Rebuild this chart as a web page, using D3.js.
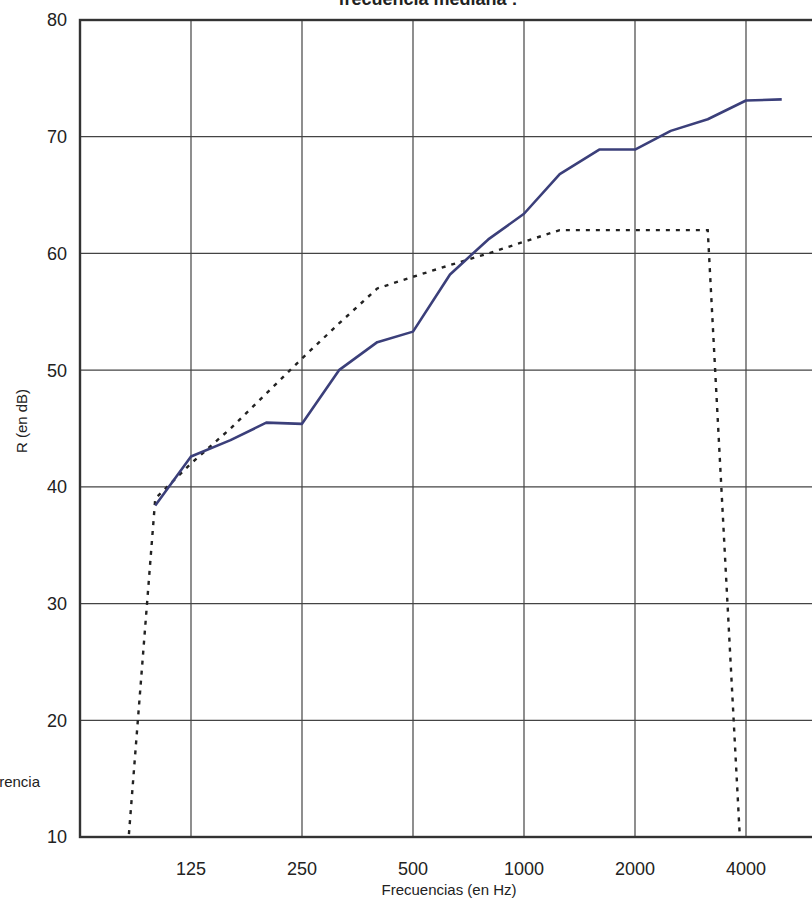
<!DOCTYPE html>
<html>
<head>
<meta charset="utf-8">
<script src="https://cdn.jsdelivr.net/npm/d3@7"></script>
<style>
  body { margin: 0; background: #fff; }
  svg { display: block; font-family: "Liberation Sans", Arial, sans-serif; }
</style>
</head>
<body>
<div id="chart"></div>
<script>
(() => {

// third-octave bands (Hz)
const freqs = [100, 125, 160, 200, 250, 315, 400, 500, 630, 800, 1000, 1250, 1600, 2000, 2500, 3150, 4000, 5000];
// measured R (dB)
const measured = [38.4, 42.6, 44.0, 45.5, 45.4, 50.0, 52.4, 53.3, 58.2, 61.2, 63.4, 66.8, 68.9, 68.9, 70.5, 71.5, 73.1, 73.2];

// shifted reference curve, 0 outside the range (clipped by the axis)
const refFreqs = [80, 100, 125, 160, 200, 250, 315, 400, 500, 630, 800, 1000, 1250, 1600, 2000, 2500, 3150, 4000];
const reference = [0, 39, 42, 45, 48, 51, 54, 57, 58, 59, 60, 61, 62, 62, 62, 62, 62, 0];

const xTicks = [125, 250, 500, 1000, 2000, 4000];
const yTicks = [10, 20, 30, 40, 50, 60, 70, 80];

const width = 812, height = 900;
const left = 80, top = 20, bottom = 837, right = 857;

const svg = d3.select("#chart")
  .append("svg")
  .attr("width", width)
  .attr("height", height);

const x = d3.scaleLog().domain([62.5, 8000]).range([left, right]);
const y = d3.scaleLinear().domain([10, 80]).range([bottom, top]);

svg.append("clipPath").attr("id", "plot-clip")
  .append("rect")
  .attr("x", left).attr("y", top)
  .attr("width", right - left).attr("height", bottom - top);

// grid
svg.append("g")
  .selectAll("line")
  .data(xTicks)
  .join("line")
  .attr("x1", d => x(d)).attr("x2", d => x(d))
  .attr("y1", top).attr("y2", bottom)
  .attr("stroke", "#444")
  .attr("stroke-width", 1.2);

svg.append("g")
  .selectAll("line")
  .data(yTicks.slice(1, -1))
  .join("line")
  .attr("x1", left).attr("x2", right)
  .attr("y1", d => y(d)).attr("y2", d => y(d))
  .attr("stroke", "#444")
  .attr("stroke-width", 1.2);

// frame
svg.append("rect")
  .attr("x", left).attr("y", top)
  .attr("width", right - left).attr("height", bottom - top)
  .attr("fill", "none")
  .attr("stroke", "#333")
  .attr("stroke-width", 2.4);

// axes labels
svg.append("g")
  .selectAll("text")
  .data(yTicks)
  .join("text")
  .attr("x", 67)
  .attr("y", d => y(d))
  .attr("dy", "0.36em")
  .attr("text-anchor", "end")
  .attr("font-size", 18)
  .attr("fill", "#222")
  .text(d => d);

svg.append("g")
  .selectAll("text")
  .data(xTicks)
  .join("text")
  .attr("x", d => x(d))
  .attr("y", 869)
  .attr("dy", "0.36em")
  .attr("text-anchor", "middle")
  .attr("font-size", 18)
  .attr("fill", "#222")
  .text(d => d);

svg.append("text")
  .attr("x", 449).attr("y", 895)
  .attr("text-anchor", "middle")
  .attr("font-size", 15)
  .attr("fill", "#222")
  .text("Frecuencias (en Hz)");

svg.append("text")
  .attr("transform", "translate(27,421) rotate(-90)")
  .attr("text-anchor", "middle")
  .attr("font-size", 15)
  .attr("fill", "#222")
  .text("R (en dB)");

// title and legend text, cut by the page edge as in the scan
svg.append("text")
  .attr("x", 428).attr("y", 5)
  .attr("text-anchor", "middle")
  .attr("font-size", 18)
  .attr("font-weight", "bold")
  .attr("fill", "#222")
  .text("frecuencia mediana :");

svg.append("text")
  .attr("x", 40).attr("y", 787)
  .attr("text-anchor", "end")
  .attr("font-size", 15)
  .attr("fill", "#222")
  .text("Curva de referencia");

// series
const line = d3.line()
  .x(d => x(d[0]))
  .y(d => y(d[1]));

svg.append("path")
  .datum(d3.zip(refFreqs, reference))
  .attr("clip-path", "url(#plot-clip)")
  .attr("d", line)
  .attr("fill", "none")
  .attr("stroke", "#222")
  .attr("stroke-width", 2.4)
  .attr("stroke-dasharray", "4,6");

svg.append("path")
  .datum(d3.zip(freqs, measured))
  .attr("d", line)
  .attr("fill", "none")
  .attr("stroke", "#3b3f7a")
  .attr("stroke-width", 2.6)
  .attr("stroke-linejoin", "round");

})();
</script>
</body>
</html>
